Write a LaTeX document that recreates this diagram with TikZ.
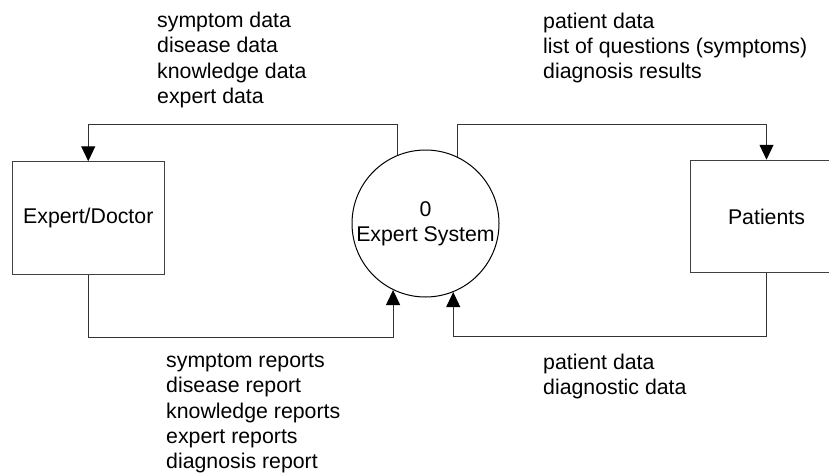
\documentclass[tikz,border=0pt]{standalone}
\usepackage{fontspec}
\setmainfont{Liberation Sans}
\usetikzlibrary{arrows.meta}
\begin{document}
\begin{tikzpicture}[x=1pt,y=-1pt,
  font=\fontsize{21.3}{25.3}\selectfont,
  flow/.style={draw=black!80, line width=1pt, -{Triangle[length=15pt,width=14pt,color=black]}},
  ent/.style={draw=black!75, line width=1pt, minimum width=151.5pt, minimum height=112.5pt, inner sep=0pt},
  proc/.style={circle, draw=black, line width=1pt, minimum size=147pt, inner sep=0pt, align=center},
  lbl/.style={anchor=base west, inner sep=0pt}]
\useasboundingbox (0,0) rectangle (829,474);
\clip (0,0) rectangle (829,474);
\node[ent] (ed) at (88.25,218) {Expert/Doctor};
\node[ent] (pt) at (766.5,216.5) {Patients};
\node[proc] (es) at (425.5,223.5) {0\\Expert System};
\draw[flow] (es.112) -- (es.112 |- 0,124) -| (ed.north);
\draw[flow] (es.64.6) -- (es.64.6 |- 0,124) -| (pt.north);
\draw[flow] (ed.south) -- (ed.south |- 0,337) -| (es.244.6);
\draw[flow] (pt.south) -- (pt.south |- 0,336) -| (es.292);
\node[lbl] (l1) at (157,27.5) {\begin{tabular}[t]{@{}l@{}}symptom data\\disease data\\knowledge data\\expert data\end{tabular}};
\node[lbl] (l2) at (543,28) {\begin{tabular}[t]{@{}l@{}}patient data\\list of questions (symptoms)\\diagnosis results\end{tabular}};
\node[lbl] (l3) at (166,367.5) {\begin{tabular}[t]{@{}l@{}}symptom reports\\disease report\\knowledge reports\\expert reports\\diagnosis report\end{tabular}};
\node[lbl] (l4) at (543,369.5) {\begin{tabular}[t]{@{}l@{}}patient data\\diagnostic data\end{tabular}};
\end{tikzpicture}
\end{document}
